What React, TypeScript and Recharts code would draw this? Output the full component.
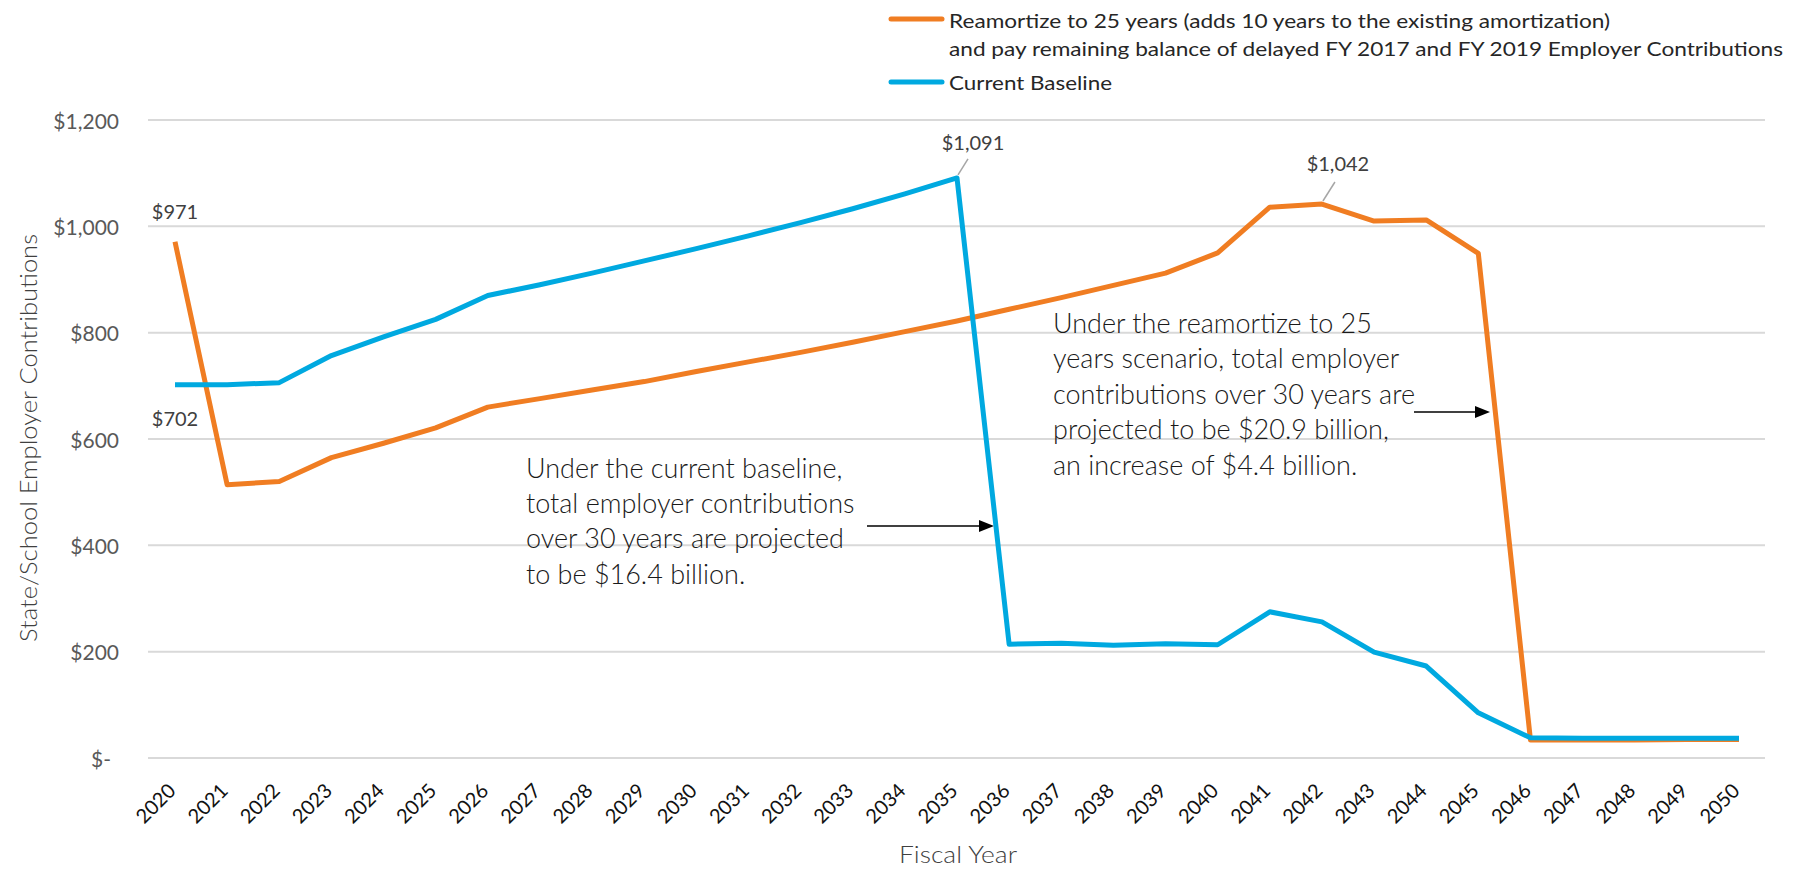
import React from 'react';
import { LineChart, Line, XAxis, YAxis, CartesianGrid, Legend, LabelList, Customized } from 'recharts';

const years = ['2020','2021','2022','2023','2024','2025','2026','2027','2028','2029','2030','2031','2032','2033','2034','2035','2036','2037','2038','2039','2040','2041','2042','2043','2044','2045','2046','2047','2048','2049','2050'];
const baselineValues = [702,702,706,757,792,825,870,890,912,935,958,982,1007,1033,1061,1091,214,216,212,215,213,275,256,199,173,85,38,37,37,37,37];
const reamortizeValues = [971,514,520,565,592,621,660,676,692,708,727,745,763,782,802,822,844,866,889,912,950,1036,1042,1010,1012,949,34,34,34,35,35];
const yTicks = [0,200,400,600,800,1000,1200];
const legendLabels = [
  'Reamortize to 25 years (adds 10 years to the existing amortization)',
  'and pay remaining balance of delayed FY 2017 and FY 2019 Employer Contributions',
  'Current Baseline',
];
const note1 = ['Under the current baseline,', 'total employer contributions', 'over 30 years are projected', 'to be $16.4 billion.'];
const note2 = ['Under the reamortize to 25', 'years scenario, total employer', 'contributions over 30 years are', 'projected to be $20.9 billion,', 'an increase of $4.4 billion.'];
const yTitle = 'State/School Employer Contributions';
const xTitle = 'Fiscal Year';

const data = years.map((year, i) => ({ year, reamortize: reamortizeValues[i], baseline: baselineValues[i] }));

const ORANGE = '#F07D22';
const BLUE = '#00A9E0';
const FONT = "Lato, 'Open Sans', sans-serif";

const fmt = (v: number) => (v === 0 ? '$-' : '$' + v.toLocaleString('en-US'));

const YTick = (props: any) => {
  const { x, y, payload } = props;
  return (
    <text x={x + (payload.value === 0 ? -8 : 0)} y={y} textAnchor="end" dominantBaseline="central" fontSize={21} fill="#595959" fontFamily={FONT}>
      {fmt(payload.value)}
    </text>
  );
};

const XTick = (props: any) => {
  const { x, y, payload } = props;
  const ax = x + 2;
  const ay = y + 34;
  return (
    <text x={ax} y={ay} transform={`rotate(-45, ${ax}, ${ay})`} textAnchor="end" fontSize={20} fill="#111" fontFamily={FONT}>
      {payload.value}
    </text>
  );
};

const labelStyle = { fontSize: 20, fill: '#404040', fontFamily: FONT } as const;

const OrangeLabel = (props: any) => {
  const { x, y, index, value } = props;
  if (index === 0) {
    return <text x={x} y={y - 31} textAnchor="middle" dominantBaseline="central" {...labelStyle}>{fmt(value)}</text>;
  }
  if (index === 22) {
    return (
      <g>
        <line x1={x + 1} y1={y - 3} x2={x + 13} y2={y - 22} stroke="#A6A6A6" strokeWidth={1.5} />
        <text x={x + 16} y={y - 41} textAnchor="middle" dominantBaseline="central" {...labelStyle}>{fmt(value)}</text>
      </g>
    );
  }
  return null;
};

const BlueLabel = (props: any) => {
  const { x, y, index, value } = props;
  if (index === 0) {
    return <text x={x} y={y + 33} textAnchor="middle" dominantBaseline="central" {...labelStyle}>{fmt(value)}</text>;
  }
  if (index === 15) {
    return (
      <g>
        <line x1={x + 1} y1={y - 3} x2={x + 11} y2={y - 19} stroke="#A6A6A6" strokeWidth={1.5} />
        <text x={x + 16} y={y - 36} textAnchor="middle" dominantBaseline="central" {...labelStyle}>{fmt(value)}</text>
      </g>
    );
  }
  return null;
};

const LegendContent = () => (
  <svg width={1790} height={100} style={{ display: 'block' }}>
    <line x1={883} x2={934} y1={11} y2={11} stroke={ORANGE} strokeWidth={5} strokeLinecap="round" />
    <text x={941} y={12} dominantBaseline="central" fontSize={20} fill="#262626" fontFamily={FONT} textLength={661} lengthAdjust="spacingAndGlyphs">{legendLabels[0]}</text>
    <text x={941} y={40} dominantBaseline="central" fontSize={20} fill="#262626" fontFamily={FONT} textLength={834} lengthAdjust="spacingAndGlyphs">{legendLabels[1]}</text>
    <line x1={883} x2={934} y1={74} y2={74} stroke={BLUE} strokeWidth={5} strokeLinecap="round" />
    <text x={941} y={74} dominantBaseline="central" fontSize={20} fill="#262626" fontFamily={FONT} textLength={163} lengthAdjust="spacingAndGlyphs">{legendLabels[2]}</text>
  </svg>
);

const Arrow = ({ x1, x2, y }: { x1: number; x2: number; y: number }) => (
  <g>
    <line x1={x1} x2={x2 - 13} y1={y} y2={y} stroke="#000" strokeWidth={1.5} />
    <polygon points={`${x2 - 15},${y - 6} ${x2},${y} ${x2 - 15},${y + 6}`} fill="#000" />
  </g>
);

const Annotations = () => (
  <g fontFamily={FONT}>
    <text x={19} y={430} transform="rotate(-90, 19, 430)" textAnchor="middle" dominantBaseline="central" fontSize={24} fontWeight={300} fill="#404040" textLength={408} lengthAdjust="spacingAndGlyphs">{yTitle}</text>
    <text x={950} y={845} textAnchor="middle" dominantBaseline="central" fontSize={24} fontWeight={300} fill="#404040" textLength={118} lengthAdjust="spacingAndGlyphs">{xTitle}</text>
    {note1.map((t, i) => (
      <text key={'a' + i} x={518} y={459 + i * 35.4} dominantBaseline="central" fontSize={27} fontWeight={300} fill="#1a1a1a">{t}</text>
    ))}
    {note2.map((t, i) => (
      <text key={'b' + i} x={1045} y={314 + i * 35.5} dominantBaseline="central" fontSize={27} fontWeight={300} fill="#1a1a1a">{t}</text>
    ))}
    <Arrow x1={859} x2={986} y={518} />
    <Arrow x1={1406} x2={1482} y={404} />
  </g>
);

export default function App() {
  return (
    <div style={{ width: 1790, height: 861, fontFamily: FONT, background: '#fff' }}>
      <LineChart width={1790} height={861} data={data} margin={{ top: 112, right: 33, left: 0, bottom: 51 }}>
        <CartesianGrid horizontal vertical={false} stroke="#D9D9D9" strokeWidth={2} />
        <XAxis dataKey="year" interval={0} height={60} tickLine={false} axisLine={false} tickSize={0} tickMargin={0} padding={{ left: 27, right: 26 }} tick={<XTick />} />
        <YAxis width={140} domain={[0, 1200]} ticks={yTicks} tickLine={false} axisLine={false} tickSize={0} tickMargin={29} tick={<YTick />} />
        <Legend verticalAlign="middle" layout="horizontal" content={<LegendContent />} wrapperStyle={{ position: 'absolute', top: 0, left: 0, width: 1790, height: 100, margin: 0, padding: 0 }} />
        <Line type="linear" dataKey="reamortize" name={legendLabels[0]} stroke={ORANGE} strokeWidth={5} dot={false} activeDot={false} strokeLinejoin="round" isAnimationActive={false}>
          <LabelList dataKey="reamortize" content={<OrangeLabel />} />
        </Line>
        <Line type="linear" dataKey="baseline" name={legendLabels[2]} stroke={BLUE} strokeWidth={5} dot={false} activeDot={false} strokeLinejoin="round" isAnimationActive={false}>
          <LabelList dataKey="baseline" content={<BlueLabel />} />
        </Line>
        <Customized component={<Annotations />} />
      </LineChart>
    </div>
  );
}
